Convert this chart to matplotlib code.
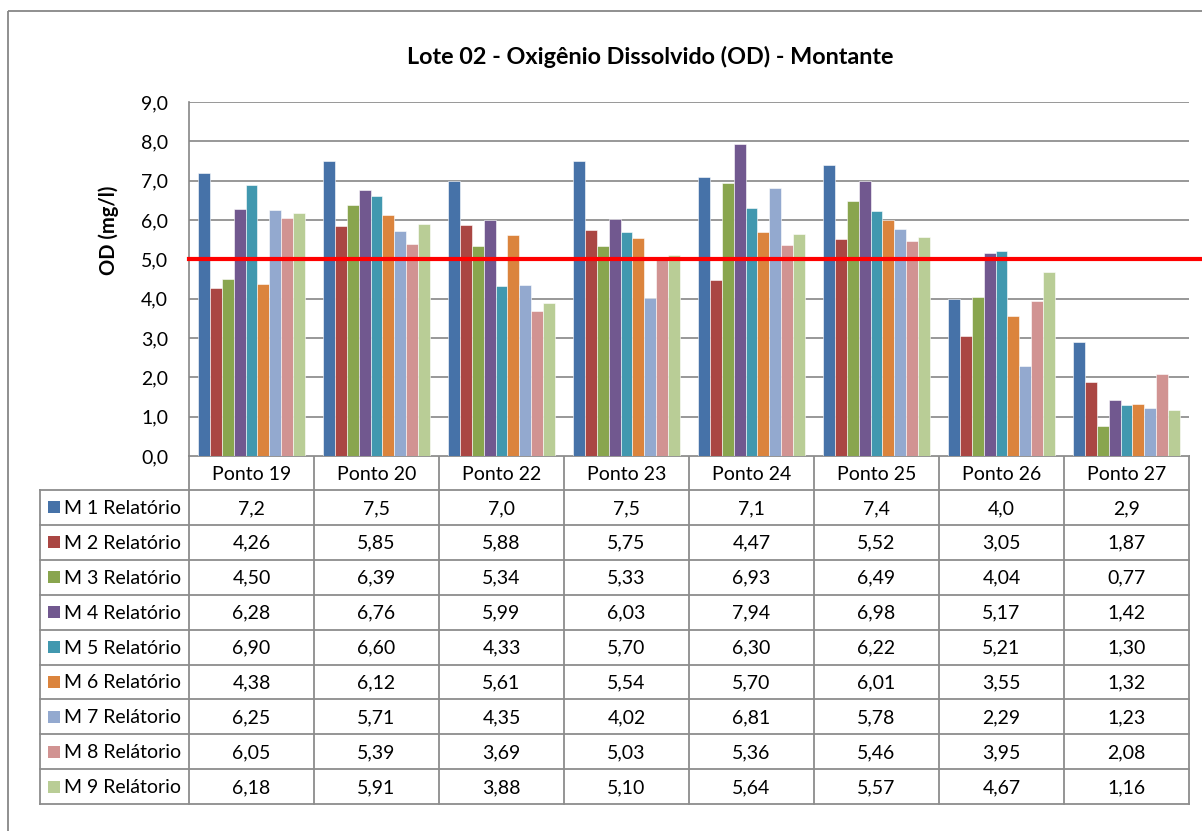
import matplotlib
matplotlib.use("Agg")
import matplotlib.pyplot as plt
from matplotlib.patches import Rectangle
import numpy as np

plt.rcParams['font.family'] = ['Lato', 'DejaVu Sans']

# ---- data -------------------------------------------------------------
categories = ["Ponto 19", "Ponto 20", "Ponto 22", "Ponto 23",
              "Ponto 24", "Ponto 25", "Ponto 26", "Ponto 27"]
series_names = ["M 1 Relatório", "M 2 Relatório", "M 3 Relatório",
                "M 4 Relatório", "M 5 Relatório", "M 6 Relatório",
                "M 7 Relátorio", "M 8 Relátorio", "M 9 Relátorio"]
m1 = [7.2, 7.5, 7.0, 7.5, 7.1, 7.4, 4.0, 2.9]
m2 = [4.26, 5.85, 5.88, 5.75, 4.47, 5.52, 3.05, 1.87]
m3 = [4.50, 6.39, 5.34, 5.33, 6.93, 6.49, 4.04, 0.77]
m4 = [6.28, 6.76, 5.99, 6.03, 7.94, 6.98, 5.17, 1.42]
m5 = [6.90, 6.60, 4.33, 5.70, 6.30, 6.22, 5.21, 1.30]
m6 = [4.38, 6.12, 5.61, 5.54, 5.70, 6.01, 3.55, 1.32]
m7 = [6.25, 5.71, 4.35, 4.02, 6.81, 5.78, 2.29, 1.23]
m8 = [6.05, 5.39, 3.69, 5.03, 5.36, 5.46, 3.95, 2.08]
m9 = [6.18, 5.91, 3.88, 5.10, 5.64, 5.57, 4.67, 1.16]
decimals = [1, 2, 2, 2, 2, 2, 2, 2, 2]
limit_od = 5.0
yticks = [0, 1, 2, 3, 4, 5, 6, 7, 8, 9]

series = [m1, m2, m3, m4, m5, m6, m7, m8, m9]
colors = ["#4672A8", "#AA4643", "#89A54E", "#71588F", "#4198AF",
          "#DB843D", "#93A9CF", "#D19392", "#B9CD96"]

# ---- figure in pixel units -------------------------------------------
W, H = 1202, 831
fig = plt.figure(figsize=(W / 100, H / 100), dpi=100)

PL, PR, PT, PB = 189, 1189, 102, 456   # plot area (pixels, top-origin)
ax = fig.add_axes([PL / W, 1 - PB / H, (PR - PL) / W, (PB - PT) / H])

# overlay for frame, table and texts (pixel coordinates)
ov = fig.add_axes([0, 0, 1, 1], zorder=-1)
ov.set_xlim(0, W)
ov.set_ylim(H, 0)
ov.axis("off")

grid_c = "#868686"
txt_c = "#000000"
fs = 14

# bars
n_cat = len(categories)
n_ser = len(series)
x = np.arange(n_cat)
gap = 1.5
bw = 1.0 / (n_ser + gap)
for i, (vals, c) in enumerate(zip(series, colors)):
    offs = -0.5 + bw * gap / 2 + bw * (i + 0.5)
    ax.bar(x + offs, vals, width=bw, color=c, edgecolor="#ffffff",
           linewidth=0.4, zorder=3)

ax.set_xlim(-0.5, n_cat - 0.5)
ax.set_ylim(0, 9)
ax.set_yticks(yticks)
ax.set_yticklabels([f"{t:.1f}".replace(".", ",") for t in yticks],
                   fontsize=fs, color=txt_c)
ax.tick_params(axis="y", length=0, pad=15)
ax.set_xticks([])
ax.grid(axis="y", color=grid_c, linewidth=1.2, zorder=0)
for s in ("top", "right", "bottom"):
    ax.spines[s].set_visible(False)
ax.spines["left"].set_color(grid_c)
ax.spines["left"].set_linewidth(1.2)

# reference line for OD limit
ax.axhline(limit_od, xmin=0, xmax=(W - PL) / (PR - PL), color="#FF0000",
           linewidth=3, zorder=4, clip_on=False)

# title and axis label
ov.text(650, 57, "Lote 02 - Oxigênio Dissolvido (OD) - Montante",
        ha="center", va="center", fontsize=16.8, fontweight="bold")
ov.text(109, 230, "OD (mg/l)", rotation=90, ha="center", va="center",
        fontsize=14.5, fontweight="bold")

# outer chart frame
ov.add_patch(Rectangle((8, 11), W + 50, H + 50, fill=False,
                       edgecolor="#878787", linewidth=1.3))

# ---- data table -------------------------------------------------------
cw = (PR - PL) / n_cat
row_h = 34.9
hdr_top, hdr_bot = PB, 490
lab_left = 40
tbl_bot = hdr_bot + n_ser * row_h
lc = "#8C8C8C"
lw = 1.3

# horizontal lines
ov.plot([PL, PR], [hdr_top, hdr_top], color=lc, lw=lw)
for r in range(n_ser + 1):
    yy = hdr_bot + r * row_h
    ov.plot([lab_left, PR], [yy, yy], color=lc, lw=lw)
# vertical lines
ov.plot([lab_left, lab_left], [hdr_bot, tbl_bot], color=lc, lw=lw)
for k in range(n_cat + 1):
    xx = PL + k * cw
    ov.plot([xx, xx], [hdr_top, tbl_bot], color=lc, lw=lw)

# header
for k, cat in enumerate(categories):
    ov.text(PL + (k + 0.5) * cw, (hdr_top + hdr_bot) / 2 + 1, cat,
            ha="center", va="center", fontsize=fs)

# rows
for r, (name, vals, c, d) in enumerate(zip(series_names, series, colors, decimals)):
    yc = hdr_bot + (r + 0.5) * row_h
    ov.add_patch(Rectangle((48, yc - 6), 12, 12, facecolor=c, edgecolor="none"))
    ov.text(64, yc + 1, name, ha="left", va="center", fontsize=fs)
    for k, v in enumerate(vals):
        ov.text(PL + (k + 0.5) * cw, yc + 1, f"{v:.{d}f}".replace(".", ","),
                ha="center", va="center", fontsize=fs)

fig.savefig("out.png", dpi=100, facecolor="white")
